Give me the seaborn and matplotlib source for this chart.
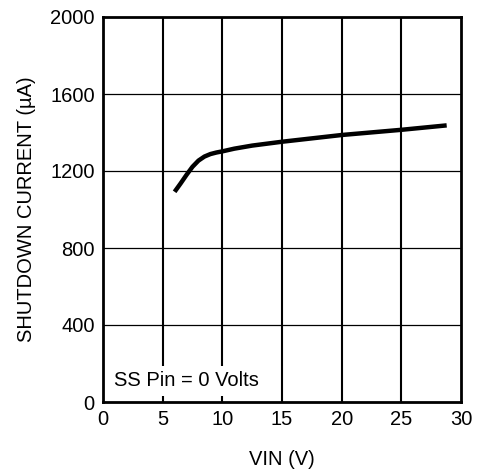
import matplotlib
matplotlib.use("Agg")
import matplotlib.pyplot as plt
import seaborn as sns
import pandas as pd

# Shutdown current vs. input voltage
vin = [6.0, 6.5, 7.0, 7.5, 8.0, 8.5, 9.0, 9.5, 10.0, 11.0, 12.5, 15.0, 20.0, 25.0, 28.8]
current = [1092, 1135, 1180, 1222, 1254, 1275, 1288, 1296, 1302, 1316, 1332, 1352, 1387, 1414, 1437]

x_ticks = [0, 5, 10, 15, 20, 25, 30]
y_ticks = [0, 400, 800, 1200, 1600, 2000]

sns.set_style("white")
plt.rcParams["font.family"] = ["Liberation Sans", "DejaVu Sans"]
plt.rcParams["text.color"] = "black"
plt.rcParams["axes.labelcolor"] = "black"

df = pd.DataFrame({"VIN": vin, "I": current})

fig = plt.figure(figsize=(4.83, 4.74), dpi=100)
ax = fig.add_axes([103 / 483, 1 - 402 / 474, 358 / 483, 385 / 474])

# grid: heavier verticals, light horizontals
for xv in x_ticks[1:-1]:
    ax.axvline(xv, color="black", lw=1.5, zorder=1)
for yv in y_ticks[1:-1]:
    ax.axhline(yv, color="black", lw=0.9, zorder=1)

sns.lineplot(data=df, x="VIN", y="I", ax=ax, color="black", lw=3.2,
             solid_capstyle="butt", zorder=4)

ax.set_xlim(0, 30)
ax.set_ylim(0, 2000)
ax.set_xticks(x_ticks)
ax.set_yticks(y_ticks)
ax.tick_params(axis="both", length=0, labelsize=14.5, pad=6, colors="black")
ax.set_xlabel("VIN (V)", fontsize=14.5, labelpad=15)
ax.set_ylabel("SHUTDOWN CURRENT (µA)", fontsize=14.5, labelpad=10)

for s in ax.spines.values():
    s.set_linewidth(2)
    s.set_color("black")
    s.set_zorder(5)

ax.text(0.9, 110, "SS Pin = 0 Volts", fontsize=14.5, ha="left", va="center",
        zorder=3, bbox=dict(facecolor="white", edgecolor="none", pad=4))

fig.savefig("out.png", dpi=100)
